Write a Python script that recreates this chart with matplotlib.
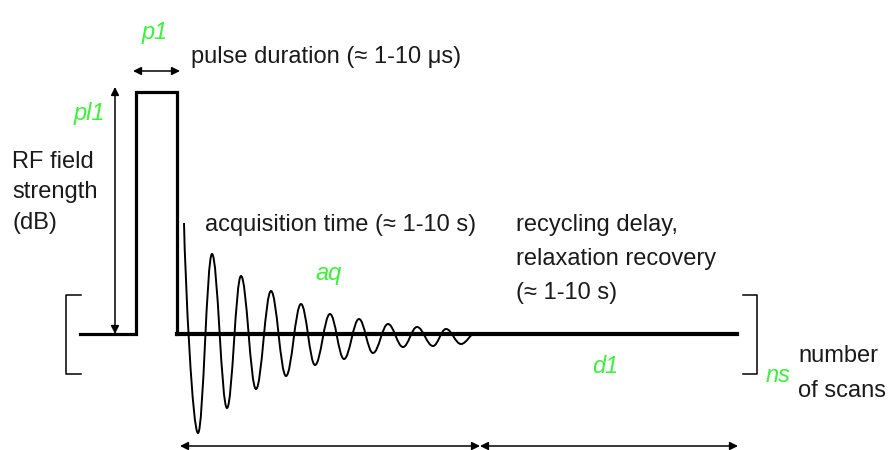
import matplotlib
matplotlib.use("Agg")
import matplotlib.pyplot as plt
from matplotlib.path import Path
from matplotlib.patches import PathPatch

# === DATA (pixel coordinates of the original drawing, y grows downward) ===
baseline_y = 334
pulse_x = [80, 136, 136, 177, 177]
pulse_y = [334, 334, 92, 92, 334]
delay_x = [177, 737]

# extrema of the free induction decay
fid_x = [184, 198, 212, 227, 241, 256, 271, 286, 301, 315, 330, 344, 359,
         373, 388, 403, 417, 433, 446, 461, 475]
fid_y = [223, 433, 254, 408, 276, 389, 291, 376, 304, 365, 314, 359, 319,
         353, 324, 347, 327, 346, 329, 344, 333]

left_bracket_x = [81, 66, 66, 81]
right_bracket_x = [743, 757, 757, 743]
bracket_y = [295, 295, 374, 374]

# black text lines: (x, baseline y, text)
labels = [
    (191, 63, "pulse duration (≈ 1-10 μs)"),
    (12, 168, "RF field"),
    (12, 198, "strength"),
    (12, 229, "(dB)"),
    (205, 231, "acquisition time (≈ 1-10 s)"),
    (516, 231, "recycling delay,"),
    (516, 265, "relaxation recovery"),
    (516, 299, "(≈ 1-10 s)"),
    (798, 362, "number"),
    (798, 397, "of scans"),
]
# green parameter names: (centre x, baseline y, text)
params = [
    (155, 39, "p1"),
    (89, 120, "pl1"),
    (329, 280, "aq"),
    (605, 373, "d1"),
    (778, 382, "ns"),
]

green = "#3cf03c"
font = ["Liberation Sans", "DejaVu Sans"]
fs = 17

fig = plt.figure(figsize=(8.89, 4.5), dpi=100)
ax = fig.add_axes([0, 0, 1, 1])
ax.set_xlim(0, 889)
ax.set_ylim(450, 0)
ax.axis("off")

# pulse and baselines
ax.plot(pulse_x, pulse_y, color="black", lw=2.3, solid_joinstyle="miter")
ax.plot(delay_x, [baseline_y, baseline_y], color="black", lw=3.0)

# FID drawn as cubic bezier segments between extrema
verts = [(fid_x[0], fid_y[0])]
codes = [Path.MOVETO]
for i in range(1, len(fid_x)):
    x0, y0 = fid_x[i - 1], fid_y[i - 1]
    x1, y1 = fid_x[i], fid_y[i]
    dx = x1 - x0
    if i == 1:
        c1 = (x0 + 0.1 * dx, y0 + 0.3 * (y1 - y0))
    else:
        c1 = (x0 + 0.38 * dx, y0)
    if i == len(fid_x) - 1:
        c2 = (x1 - 0.3 * dx, y1)
    else:
        c2 = (x1 - 0.38 * dx, y1)
    verts += [c1, c2, (x1, y1)]
    codes += [Path.CURVE4] * 3
ax.add_patch(PathPatch(Path(verts, codes), fill=False, lw=1.4, color="black"))

# brackets
ax.plot(left_bracket_x, bracket_y, color="black", lw=1.1)
ax.plot(right_bracket_x, bracket_y, color="black", lw=1.1)

# arrows
arrow = dict(arrowstyle="<|-|>", color="black", lw=1.1, mutation_scale=12,
             shrinkA=0, shrinkB=0)
ax.annotate("", xy=(115, 87), xytext=(115, 334), arrowprops=arrow)
ax.annotate("", xy=(133, 71), xytext=(180, 71), arrowprops=arrow)
ax.annotate("", xy=(180, 446), xytext=(480, 446), arrowprops=arrow)
ax.annotate("", xy=(480, 446), xytext=(738, 446), arrowprops=arrow)

for x, y, s in labels:
    ax.text(x, y, s, family=font, fontsize=fs, color="#1a1a1a",
            va="baseline", ha="left")

for x, y, s in params:
    ax.text(x, y, s, family=font, fontsize=fs, color=green, style="italic",
            va="baseline", ha="center")

fig.savefig("out.png", dpi=100)
